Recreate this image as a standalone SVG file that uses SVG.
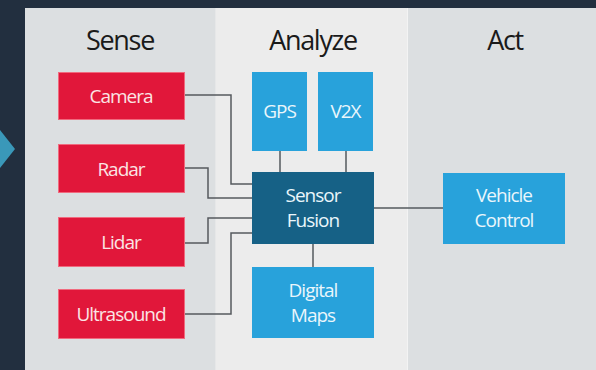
<svg xmlns="http://www.w3.org/2000/svg" width="596" height="370" viewBox="0 0 596 370">
<style>
.title{font-family:"Open Sans","Noto Sans","Liberation Sans",sans-serif;font-size:27px;fill:#1a1a1a;text-anchor:middle;letter-spacing:-1.3px}
.lbl{font-family:"Open Sans","Noto Sans","Liberation Sans",sans-serif;font-size:19px;font-weight:500;text-anchor:middle;letter-spacing:-1px}
.red{fill:#e1173a;stroke:#f06a7e;stroke-width:1}
.red-t{fill:#fbe4e4}
.blue{fill:#28a2db}
.dark{fill:#166186}
.wt{fill:#eaf6fb}
.conn{fill:none;stroke:#555a5e;stroke-width:1.5}
</style>
<rect x="0" y="0" width="596" height="370" fill="#222f3f"/>
<polygon points="0,130 15,149 0,168" fill="#3a98b9"/>
<rect x="25" y="8" width="571" height="362" fill="#dcdfe1"/>
<rect x="215" y="8" width="193" height="362" fill="#ececec"/>
<line x1="215.5" y1="8" x2="215.5" y2="370" stroke="#e6e7e8" stroke-width="1"/>
<line x1="407.5" y1="8" x2="407.5" y2="370" stroke="#f3f3f3" stroke-width="1"/>
<text class="title" x="120" y="50">Sense</text>
<text class="title" x="313" y="50">Analyze</text>
<text class="title" x="505" y="50">Act</text>
<g id="connectors">
<polyline class="conn" points="184,95 231,95 231,184 252,184"/>
<polyline class="conn" points="184,168 208,168 208,198 252,198"/>
<polyline class="conn" points="184,243 208,243 208,218 252,218"/>
<polyline class="conn" points="184,314 231,314 231,233 252,233"/>
<line class="conn" x1="280" y1="151" x2="280" y2="172"/>
<line class="conn" x1="346" y1="151" x2="346" y2="172"/>
<line class="conn" x1="313" y1="244" x2="313" y2="267"/>
<line class="conn" x1="374" y1="208" x2="443" y2="208"/>
</g>
<g id="camera"><rect class="red" x="58.5" y="72.5" width="126" height="47"/><text class="lbl red-t" x="121" y="102.5">Camera</text></g>
<g id="radar"><rect class="red" x="58.5" y="144.5" width="126" height="48"/><text class="lbl red-t" x="121" y="175.5">Radar</text></g>
<g id="lidar"><rect class="red" x="58.5" y="217.5" width="126" height="49"/><text class="lbl red-t" x="121" y="248.5">Lidar</text></g>
<g id="ultrasound"><rect class="red" x="58.5" y="289.5" width="126" height="49"/><text class="lbl red-t" x="121" y="320.5">Ultrasound</text></g>
<g id="gps"><rect class="blue" x="252" y="72" width="55" height="79"/><text class="lbl wt" x="279.5" y="118">GPS</text></g>
<g id="v2x"><rect class="blue" x="318" y="72" width="55" height="79"/><text class="lbl wt" x="345.5" y="118">V2X</text></g>
<g id="sensor-fusion"><rect class="dark" x="252" y="172" width="122" height="72"/><text class="lbl wt" x="313" y="202">Sensor</text><text class="lbl wt" x="313" y="227">Fusion</text></g>
<g id="digital-maps"><rect class="blue" x="252" y="267" width="122" height="71"/><text class="lbl wt" x="313" y="297">Digital</text><text class="lbl wt" x="313" y="322">Maps</text></g>
<g id="vehicle-control"><rect class="blue" x="443" y="173" width="122" height="71"/><text class="lbl wt" x="504" y="202">Vehicle</text><text class="lbl wt" x="504" y="227">Control</text></g>
</svg>
